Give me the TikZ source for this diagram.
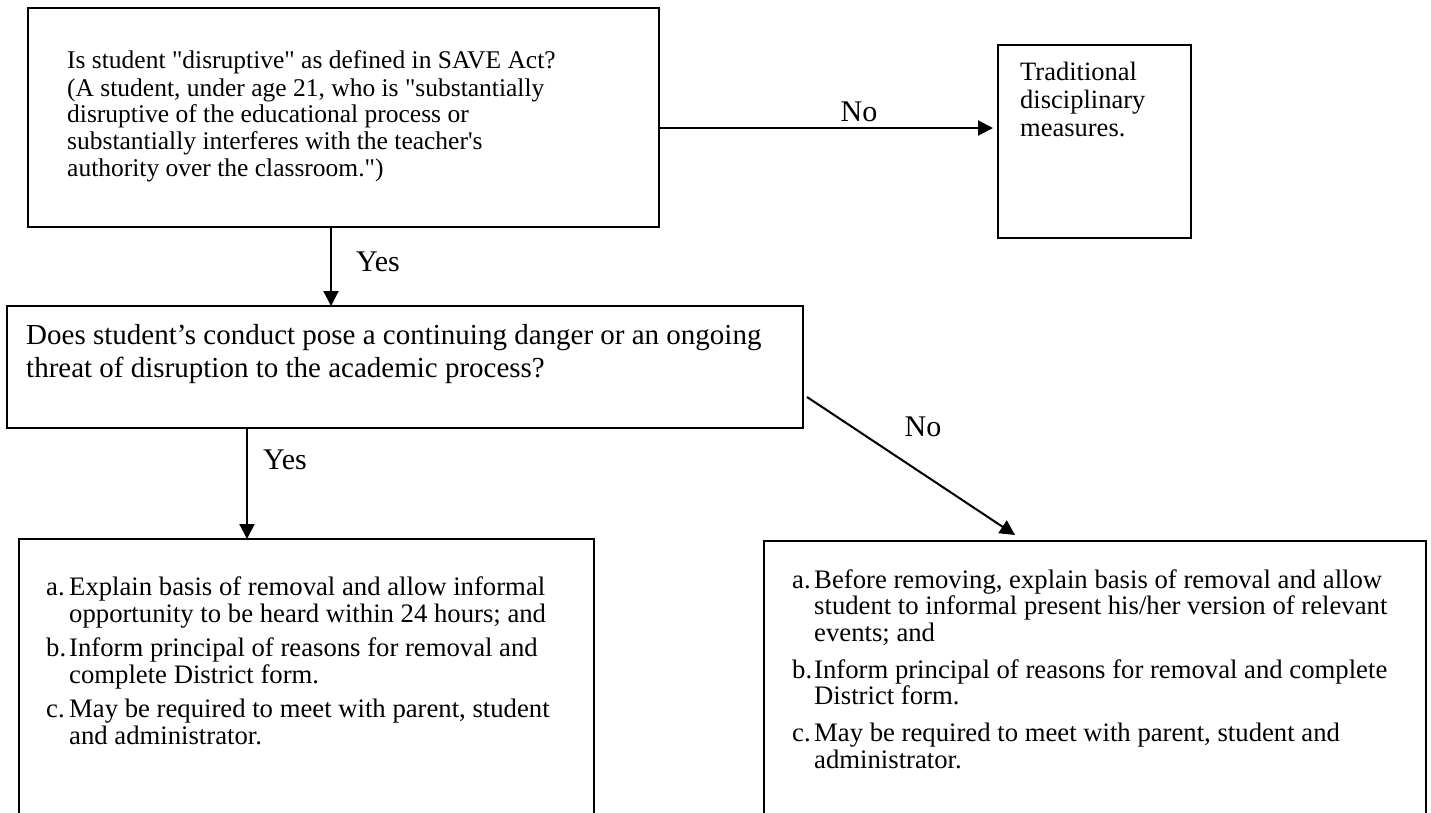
\documentclass[tikz,border=0pt]{standalone}
\usepackage{fontspec}
\setmainfont{Liberation Serif}[Ligatures=TeXOff]
\usetikzlibrary{arrows.meta}
\begin{document}
\begin{tikzpicture}[x=1pt,y=-1pt,
  box/.style={draw, line width=2pt, anchor=north west, inner sep=0pt, outer sep=0pt},
  arr/.style={line width=2pt, -{Triangle[length=15pt,width=15pt]}},
  lbl/.style={inner sep=0pt, font=\fontsize{30}{30}\selectfont},
  txt/.style={inner sep=0pt, anchor=base west}]
\useasboundingbox (0,0) rectangle (1431,812);
\clip (0,0) rectangle (1431,812);

% boxes
\node[box, minimum width=631pt, minimum height=219pt] (b1) at (28,8) {};
\node[box, minimum width=193pt, minimum height=193pt] (b3) at (998,45) {};
\node[box, minimum width=796pt, minimum height=122pt] (b2) at (7,306) {};
\node[box, minimum width=575pt, minimum height=300pt] (b4) at (19,539) {};
\node[box, minimum width=662pt, minimum height=300pt] (b5) at (764,541) {};

% texts
\node[txt] (t1) at (67,68) {\parbox[t]{600pt}{\fontsize{25.5}{26.7}\selectfont
Is student "disruptive" as defined in SAVE Act?\\[1.3pt]
(A student, under age 21, who is "substantially\\
disruptive of the educational process or\\
substantially interferes with the teacher's\\
authority over the classroom.")}};

\node[txt] (t3) at (1020,80) {\parbox[t]{170pt}{\fontsize{26.5}{28}\selectfont
Traditional\\
disciplinary\\
measures.}};

\node[txt] (t2) at (26,344) {\parbox[t]{780pt}{\fontsize{29}{33}\selectfont
Does student’s conduct pose a continuing danger or an ongoing\\
threat of disruption to the academic process?}};

\node[txt] (t4) at (46,595) {\parbox[t]{560pt}{\fontsize{26.7}{27}\selectfont
\makebox[23pt][l]{a.}Explain basis of removal and allow informal\\
\hspace*{23pt}opportunity to be heard within 24 hours; and\\[7pt]
\makebox[23pt][l]{b.}Inform principal of reasons for removal and\\
\hspace*{23pt}complete District form.\\[7pt]
\makebox[23pt][l]{c.}May be required to meet with parent, student\\
\hspace*{23pt}and administrator.}};

\node[txt] (t5) at (792,588) {\parbox[t]{630pt}{\fontsize{26.7}{26.7}\selectfont
\makebox[22pt][l]{a.}Before removing, explain basis of removal and allow\\
\hspace*{22pt}student to informal present his/her version of relevant\\
\hspace*{22pt}events; and\\[10pt]
\makebox[22pt][l]{b.}Inform principal of reasons for removal and complete\\
\hspace*{22pt}District form.\\[10pt]
\makebox[22pt][l]{c.}May be required to meet with parent, student and\\
\hspace*{22pt}administrator.}};

% labels
\node[lbl] (no1) at (859,112) {No};
\node[lbl] (yes1) at (378,262) {Yes};
\node[lbl] (yes2) at (285,460) {Yes};
\node[lbl] (no2) at (923,427) {No};

% connectors
\draw[arr, shorten >=5pt] ([yshift=-10.5pt]b1.east) -- ([yshift=-10.5pt]b1.east -| b3.west);
\draw[arr] ([xshift=-12.5pt]b1.south) -- ([xshift=-12.5pt]b1.south |- b2.north);
\draw[arr] ([xshift=-158pt]b2.south) -- ([xshift=-158pt]b2.south |- b4.north);
\draw[arr] ([xshift=4pt,yshift=31pt]b2.south east) -- ([xshift=251pt,yshift=6pt]b5.north west);
\end{tikzpicture}
\end{document}
